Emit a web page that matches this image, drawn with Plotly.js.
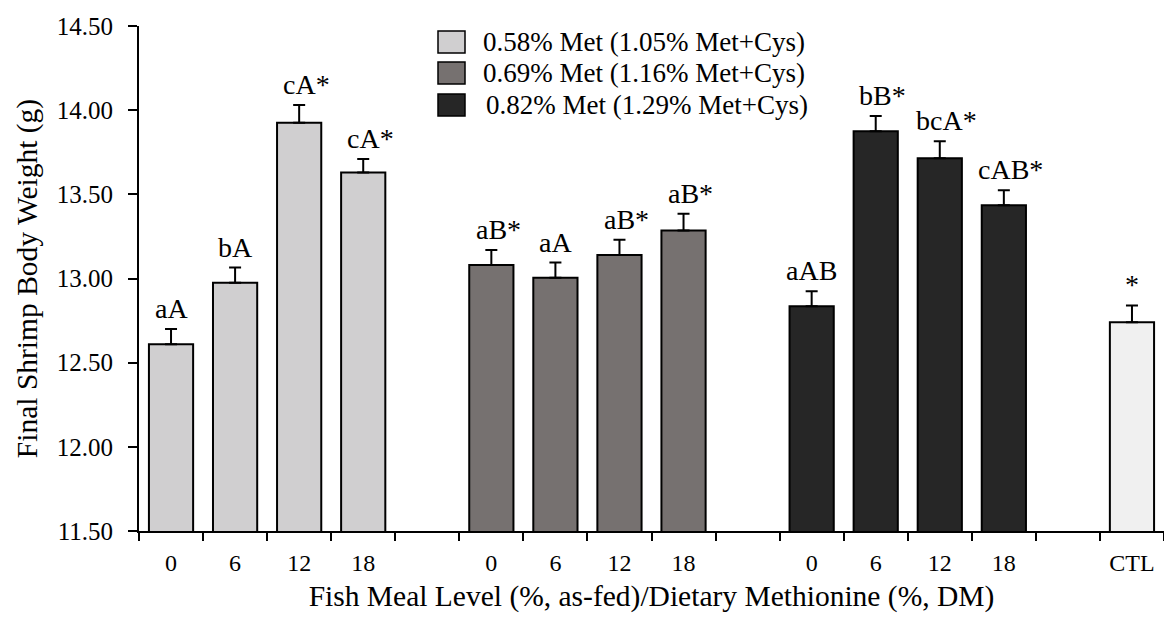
<!DOCTYPE html>
<html><head><meta charset="utf-8">
<script src="https://cdn.plot.ly/plotly-3.0.1.min.js"></script>
<style>html,body{margin:0;padding:0;background:#fff}#chart{width:1164px;height:617px}</style>
</head><body><div id="chart"></div>
<script>
// ---- data ----
const fishMealLevels = ['0', '6', '12', '18'];
const seriesNames = ['0.58% Met (1.05% Met+Cys)', '0.69% Met (1.16% Met+Cys)', '0.82% Met (1.29% Met+Cys)'];
const met058 = [12.61, 12.975, 13.925, 13.63];
const met058Err = [0.09, 0.09, 0.105, 0.08];
const met058Labels = ['aA', 'bA', 'cA*', 'cA*'];
const met069 = [13.08, 13.005, 13.14, 13.285];
const met069Err = [0.09, 0.09, 0.09, 0.10];
const met069Labels = ['aB*', 'aA', 'aB*', 'aB*'];
const met082 = [12.835, 13.875, 13.715, 13.435];
const met082Err = [0.09, 0.09, 0.10, 0.09];
const met082Labels = ['aAB', 'bB*', 'bcA*', 'cAB*'];
const ctlCategory = ['CTL'];
const ctlValue = [12.74];
const ctlErr = [0.10];
const ctlLabels = ['*'];
const yTicks = [11.5, 12.0, 12.5, 13.0, 13.5, 14.0, 14.5];

// ---- styling ----
const FONT = 'Liberation Serif';
const LABEL_SIZE = 28;
const colors = ['#d0cfd0', '#767170', '#262626'];
const ctlColor = '#f0f0f0';
const groupStride = fishMealLevels.length + 1;   // one empty slot between groups
const nSlots = groupStride * 3 + 1;

const seriesVals = [met058, met069, met082];
const seriesErrs = [met058Err, met069Err, met082Err];
const seriesLabels = [met058Labels, met069Labels, met082Labels];

const traces = [];
const annotations = [];
const centers = [], centerText = [];

function addLabels(xs, vals, errs, labels) {
  xs.forEach((x, i) => {
    const t = labels[i];
    // letters are centred over the bar; a trailing asterisk hangs to the right
    const hang = (t.length > 1 && t.endsWith('*')) ? LABEL_SIZE * 0.25 : 0;
    annotations.push({ xref: 'x', yref: 'y', x: x, y: vals[i] + errs[i], text: t, showarrow: false,
      xanchor: 'center', yanchor: 'bottom', xshift: hang, yshift: 3,
      font: { family: FONT, size: LABEL_SIZE, color: '#000' } });
  });
}

seriesVals.forEach((vals, g) => {
  const xs = fishMealLevels.map((_, i) => g * groupStride + i);
  xs.forEach((x, i) => { centers.push(x); centerText.push(fishMealLevels[i]); });
  traces.push({
    type: 'bar', name: seriesNames[g], x: xs, y: vals, width: 0.69,
    marker: { color: colors[g], line: { color: '#000', width: 2 } },
    error_y: { type: 'data', symmetric: false, array: seriesErrs[g], arrayminus: vals.map(() => 0),
               color: '#000', thickness: 2, width: 6 },
    hoverinfo: 'skip', showlegend: false
  });
  addLabels(xs, vals, seriesErrs[g], seriesLabels[g]);
});
const ctlX = ctlCategory.map((_, i) => nSlots - 1 + i);
ctlX.forEach((x, i) => { centers.push(x); centerText.push(ctlCategory[i]); });
traces.push({
  type: 'bar', name: 'CTL', x: ctlX, y: ctlValue, width: 0.69,
  marker: { color: ctlColor, line: { color: '#000', width: 2 } },
  error_y: { type: 'data', symmetric: false, array: ctlErr, arrayminus: [0], color: '#000', thickness: 2, width: 6 },
  hoverinfo: 'skip', showlegend: false
});
addLabels(ctlX, ctlValue, ctlErr, ctlLabels);
// invisible trace to activate xaxis2 (category labels)
traces.push({ type: 'scatter', mode: 'none', x: centers, y: centers.map(() => 11.5), xaxis: 'x2', hoverinfo: 'skip', showlegend: false });

const boundaries = [];
for (let k = 0; k <= nSlots; k++) boundaries.push(k - 0.5);

// custom legend (swatches + text), placed in paper coords
const L = 139, R = 1164, T = 26, B = 531;
const px = v => (v - L) / (R - L);
const py = v => (B - v) / (B - T);
const legendRows = [42, 73, 105];
const shapes = [];
seriesNames.forEach((name, g) => {
  const cy = legendRows[g];
  shapes.push({ type: 'rect', xref: 'paper', yref: 'paper', x0: px(438), x1: px(465), y0: py(cy - 11), y1: py(cy + 11),
    fillcolor: colors[g], line: { color: '#000', width: 1.5 } });
  annotations.push({ xref: 'paper', yref: 'paper', x: px(g === 2 ? 484 : 481), y: py(cy), xanchor: 'left', yanchor: 'middle',
    text: name, showarrow: false, font: { family: FONT, size: 27, color: '#000' } });
});

const layout = {
  width: 1164, height: 617,
  margin: { l: L, r: 1164 - R, t: T, b: 617 - B, pad: 0 },
  paper_bgcolor: '#fff', plot_bgcolor: '#fff',
  font: { family: FONT, color: '#000' },
  showlegend: false, bargap: 0,
  xaxis: {
    range: [-0.5, nSlots - 0.5], tickmode: 'array', tickvals: boundaries, showticklabels: false,
    ticks: 'outside', ticklen: 8, tickwidth: 2, tickcolor: '#000',
    showline: true, linewidth: 2, linecolor: '#000', showgrid: false, zeroline: false, fixedrange: true
  },
  xaxis2: {
    overlaying: 'x', anchor: 'free', position: py(521), side: 'bottom', range: [-0.5, nSlots - 0.5],
    tickmode: 'array', tickvals: centers, ticktext: centerText, ticks: '', ticklabelstandoff: 25,
    tickfont: { family: FONT, size: 24, color: '#000' },
    showline: false, showgrid: false, zeroline: false, fixedrange: true,
    title: { text: 'Fish Meal Level (%, as-fed)/Dietary Methionine (%, DM)', font: { family: FONT, size: 29.5, color: '#000' }, standoff: 10 }
  },
  yaxis: {
    range: [11.5, 14.5], tickmode: 'array', tickvals: yTicks, tickformat: '.2f',
    ticks: 'outside', ticklen: 9, tickwidth: 2, tickcolor: '#000', ticklabelstandoff: 10,
    tickfont: { family: FONT, size: 25, color: '#000' },
    showline: true, linewidth: 2, linecolor: '#000', showgrid: false, zeroline: false, fixedrange: true,
    title: { text: 'Final Shrimp Body Weight (g)', font: { family: FONT, size: 29.5, color: '#000' }, standoff: 10 }
  },
  shapes: shapes, annotations: annotations
};

Plotly.newPlot('chart', traces, layout, { staticPlot: true, displayModeBar: false });
</script>
</body></html>
